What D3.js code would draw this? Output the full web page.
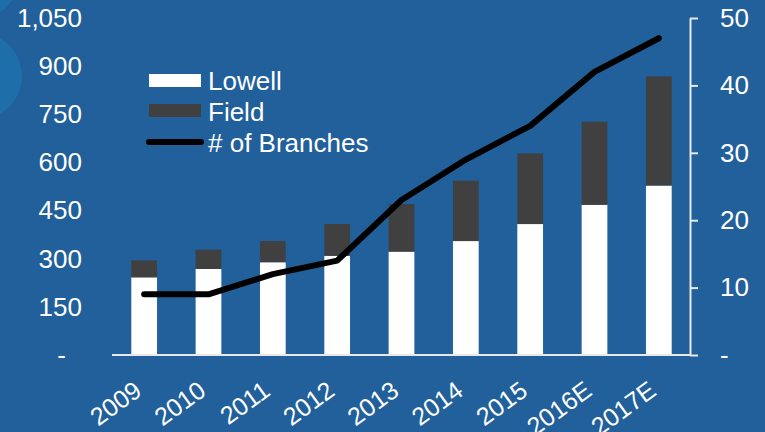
<!DOCTYPE html>
<html lang="en">
  <head>
    <meta charset="utf-8">
    <title>Lowell vs Field, branches</title>
    <script src="https://d3js.org/d3.v7.min.js"></script>
    <style>
      body { margin: 0; background: #21609a; overflow: hidden; }
      svg { display: block; }
      text { font-family: "Liberation Sans", Arial, sans-serif; fill: #fff; }
    </style>
  </head>

  <body>

  <script>

  // data
  var years    = ["2009", "2010", "2011", "2012", "2013", "2014", "2015", "2016E", "2017E"];
  var lowell   = [242, 268, 289, 309, 322, 355, 408, 468, 528];
  var field    = [53, 60, 66, 99, 148, 188, 220, 259, 340];
  var branches = [9, 9, 12, 14, 23, 29, 34, 42, 47];
  var leftTicks  = [0, 150, 300, 450, 600, 750, 900, 1050];
  var rightTicks = [0, 10, 20, 30, 40, 50];

  var w = 765;
  var h = 432;
  var margin = {top: 18, right: 75, bottom: 77, left: 112};
  var innerWidth = w - margin.left - margin.right;
  var innerHeight = h - margin.top - margin.bottom;

  var svg = d3.select("body")
    .append("svg")
      .attr("width", w)
      .attr("height", h);

  svg.append("rect")
      .attr("width", w)
      .attr("height", h)
      .attr("fill", "#21609a");

  // faint circles in the corner of the slide
  svg.append("circle")
      .attr("cx", -22).attr("cy", 76).attr("r", 44)
      .attr("fill", "#1d6ea9");
  svg.append("circle")
      .attr("cx", -40).attr("cy", -40).attr("r", 66)
      .attr("fill", "#1d6ea9");

  var xScale = d3.scaleBand()
      .domain(years)
      .range([0, innerWidth + 1])
      .paddingInner(0.6)
      .paddingOuter(0.3);

  var yLeft = d3.scaleLinear()
      .domain([0, 1050])
      .range([innerHeight, 0]);

  var yRight = d3.scaleLinear()
      .domain([0, 50])
      .range([innerHeight, 0]);

  var g = svg.append("g")
      .attr("transform", `translate(${margin.left}, ${margin.top})`);

  // stacked bars
  var stacked = years.map((y, i) => ({year: y, lowell: lowell[i], field: field[i]}));
  var series = d3.stack().keys(["lowell", "field"])(stacked);
  var colors = {lowell: "#ffffff", field: "#404040"};

  g.selectAll("g.series")
    .data(series)
    .enter().append("g")
      .attr("fill", d => colors[d.key])
    .selectAll("rect")
    .data(d => d)
    .enter().append("rect")
      .attr("x", d => xScale(d.data.year))
      .attr("y", d => yLeft(d[1]))
      .attr("width", xScale.bandwidth())
      .attr("height", d => yLeft(d[0]) - yLeft(d[1]));

  // left axis, labels only
  var leftAxis = g.append("g")
      .call(d3.axisLeft(yLeft)
        .tickValues(leftTicks)
        .tickSize(0)
        .tickPadding(30)
        .tickFormat(d => d == 0 ? "-" : d3.format(",")(d)));
  leftAxis.select(".domain").remove();
  leftAxis.selectAll("text")
      .style("font-size", "26px")
      .attr("dx", d => d == 0 ? -16 : 0);

  // right axis
  var rightAxis = g.append("g")
      .attr("transform", `translate(${innerWidth}, 0)`)
      .call(d3.axisRight(yRight)
        .tickValues(rightTicks)
        .tickSize(8)
        .tickSizeOuter(0)
        .tickPadding(22)
        .tickFormat(d => d == 0 ? "-" : d));
  rightAxis.select(".domain").attr("stroke", "#e8e8e8").attr("stroke-width", 2);
  rightAxis.selectAll("line").attr("stroke", "#e8e8e8").attr("stroke-width", 2);
  rightAxis.selectAll("text").style("font-size", "26px");

  // x axis baseline and rotated labels
  g.append("line")
      .attr("x1", 0).attr("x2", innerWidth)
      .attr("y1", innerHeight).attr("y2", innerHeight)
      .attr("stroke", "#e8e8e8").attr("stroke-width", 2);

  g.selectAll("text.xlab")
    .data(years)
    .enter().append("text")
      .attr("class", "xlab")
      .attr("text-anchor", "end")
      .attr("transform", d => `translate(${xScale(d) + xScale.bandwidth() / 2 - 1}, ${innerHeight + 39}) rotate(-36)`)
      .style("font-size", "25px")
      .text(d => d);

  // # of branches line
  var line = d3.line()
      .x((d, i) => xScale(years[i]) + xScale.bandwidth() / 2)
      .y(d => yRight(d));

  g.append("path")
      .datum(branches)
      .attr("d", line)
      .attr("fill", "none")
      .attr("stroke", "#000")
      .attr("stroke-width", 6)
      .attr("stroke-linecap", "round")
      .attr("stroke-linejoin", "round");

  // legend
  var legend = svg.append("g")
      .attr("transform", "translate(149, 74)");

  legend.append("rect")
      .attr("x", 0).attr("y", 0).attr("width", 52).attr("height", 13)
      .attr("fill", "#fff");
  legend.append("rect")
      .attr("x", 0).attr("y", 30).attr("width", 52).attr("height", 13)
      .attr("fill", "#404040");
  legend.append("line")
      .attr("x1", 0).attr("x2", 52).attr("y1", 68).attr("y2", 68)
      .attr("stroke", "#000").attr("stroke-width", 6)
      .attr("stroke-linecap", "round");

  legend.selectAll("text")
    .data(["Lowell", "Field", "# of Branches"])
    .enter().append("text")
      .attr("x", 59)
      .attr("y", (d, i) => i * 31 + 7)
      .attr("dy", "0.35em")
      .style("font-size", "26px")
      .text(d => d);

  </script>

  </body>

</html>
